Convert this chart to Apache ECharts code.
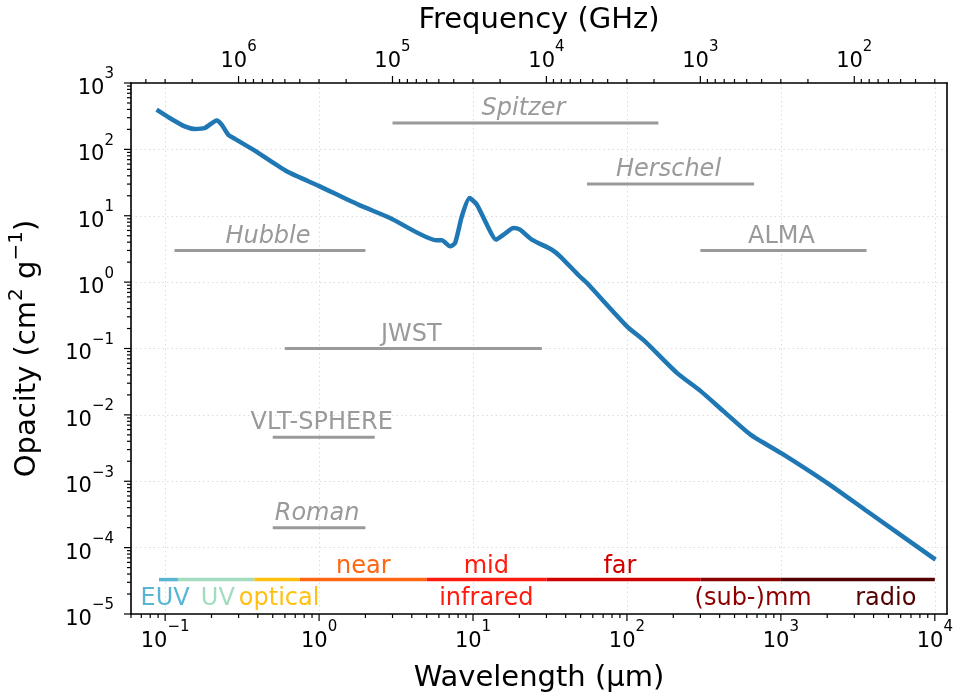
<!DOCTYPE html>
<html>
<head>
<meta charset="utf-8">
<script src="https://cdn.jsdelivr.net/npm/echarts@6/dist/echarts.min.js"></script>
<style>
  html, body { margin: 0; padding: 0; background: #ffffff; }
  #chart { width: 957px; height: 697px; }
</style>
</head>
<body>
<div id="chart"></div>
<script>
// Dust opacity versus wavelength (µm) and its matching frequency axis (GHz)
const wavelength = [0.088, 0.107, 0.134, 0.156, 0.181, 0.216, 0.233, 0.257, 0.284, 0.373,
  0.616, 1.01, 1.80, 2.89, 5.82, 6.27, 7.10, 7.65, 8.46, 9.48,
  10.6, 12.3, 14.1, 15.8, 18.3, 20.2, 24.1, 32.5, 36.8, 48.5,
  55, 100, 131, 211, 300, 425, 634, 1042, 1995, 3634, 10100];
const opacity = [396, 297, 222, 203, 210, 273, 236, 166, 144, 99,
  46.7, 27.7, 14.7, 9.27, 4.26, 4.26, 3.46, 3.89, 9.8, 18.5,
  14.7, 7.35, 4.37, 5.19, 6.55, 6.18, 4.37, 3.08, 2.45, 1.27,
  0.97, 0.216, 0.128, 0.043, 0.023, 0.0113, 0.00505, 0.00252, 9.46e-4, 3.53e-4, 6.6e-5];

// Telescope wavelength coverage, drawn at an arbitrary opacity level
const instrumentNames = ['Spitzer', 'Herschel', 'Hubble', 'ALMA', 'JWST', 'VLT-SPHERE', 'Roman'];
const instrumentStart = [3, 55, 0.115, 300, 0.6, 0.5, 0.5];
const instrumentEnd = [160, 670, 2.0, 3600, 28, 2.3, 2.0];
const instrumentLevel = [250, 30, 3, 3, 0.1, 0.0046, 2e-4];
const spaceTelescopes = ['Spitzer', 'Herschel', 'Hubble', 'Roman'];

// Spectral regions
const bandNames = ['EUV', 'UV', 'optical', 'near', 'mid', 'far', '(sub-)mm', 'radio'];
const bandStart = [0.0912, 0.121, 0.38, 0.75, 5, 30, 300, 1000];
const bandEnd = [0.121, 0.38, 0.75, 5, 30, 300, 1000, 10000];
const bandLevel = 3.3e-5;
const bandLabelText = ['EUV', 'UV', 'optical', 'near', 'mid', 'infrared', 'far', '(sub-)mm', 'radio'];
const bandLabelAt = [0.1, 0.22, 0.55, 1.94, 12.2, 12.2, 90, 660, 4800];
const bandLabelAbove = [false, false, false, true, true, false, true, false, false];

// Axis ranges and tick decades
const xRange = [0.06, 1.2e4];
const yRange = [1e-5, 1e3];
const waveDecades = [-2, -1, 0, 1, 2, 3, 4];
const freqDecades = [1, 2, 3, 4, 5, 6];
const opacityDecades = [-5, -4, -3, -2, -1, 0, 1, 2];
const UM_GHZ = 2.99792458e5; // λ[µm] · ν[GHz]

const bandColor = {
  'EUV': '#58b5d4', 'UV': '#a3dbbf', 'optical': '#ffc012', 'near': '#ff6612',
  'mid': '#ff1a0d', 'infrared': '#ff1a0d', 'far': '#d10000', '(sub-)mm': '#8c0000', 'radio': '#520000'
};
const FONT = '"DejaVu Sans", "Liberation Sans", sans-serif';
const GRAY = '#9a9a9a';

function supLabel(v) {
  const e = Math.log10(v);
  const r = Math.round(e);
  if (Math.abs(e - r) > 1e-6) return '';
  return '{b|10}{s|' + (r < 0 ? '\u2212' + (-r) : r) + '}';
}
const tickRich = {
  b: { fontSize: 21, fontFamily: FONT, color: '#000', lineHeight: 32, verticalAlign: 'bottom' },
  s: { fontSize: 15, fontFamily: FONT, color: '#000', lineHeight: 20, verticalAlign: 'top' }
};

const chart = echarts.init(document.getElementById('chart'), null, { renderer: 'canvas' });

function tickMarks(params, api) {
  const kids = [];
  const bottom = api.coord([xRange[0], yRange[0]])[1];
  const top = api.coord([xRange[0], yRange[1]])[1];
  const left = api.coord([xRange[0], yRange[0]])[0];
  const line = (x1, y1, x2, y2) => kids.push({
    type: 'line', shape: { x1, y1, x2, y2 },
    style: { stroke: '#000', lineWidth: 1.2 }, silent: true
  });
  const inX = v => v >= xRange[0] * 0.9999 && v <= xRange[1] * 1.0001;
  const inY = v => v >= yRange[0] * 0.9999 && v <= yRange[1] * 1.0001;
  // wavelength axis
  waveDecades.forEach(d => {
    for (let k = 1; k <= 9; k++) {
      const v = k * Math.pow(10, d);
      if (!inX(v)) continue;
      const x = api.coord([v, yRange[0]])[0];
      line(x, bottom, x, bottom + (k === 1 ? 7 : 4));
    }
  });
  // frequency axis
  freqDecades.forEach(d => {
    for (let k = 1; k <= 9; k++) {
      const lam = UM_GHZ / (k * Math.pow(10, d));
      if (!inX(lam)) continue;
      const x = api.coord([lam, yRange[1]])[0];
      line(x, top, x, top - (k === 1 ? 7 : 4));
    }
  });
  // opacity axis
  opacityDecades.forEach(d => {
    for (let k = 1; k <= 9; k++) {
      const v = k * Math.pow(10, d);
      if (!inY(v)) continue;
      const y = api.coord([xRange[0], v])[1];
      line(left, y, left - (k === 1 ? 7 : 4), y);
    }
  });
  const y3 = api.coord([xRange[0], 1e3])[1];
  line(left, y3, left - 7, y3);
  return { type: 'group', children: kids };
}

function instrumentItem(params, api) {
  const a = api.value(0), b = api.value(1), lvl = api.value(2);
  const name = instrumentNames[params.dataIndex];
  const p0 = api.coord([a, lvl]);
  const p1 = api.coord([b, lvl]);
  const pm = api.coord([Math.sqrt(a * b), lvl]);
  const italic = spaceTelescopes.indexOf(name) >= 0;
  return {
    type: 'group',
    children: [
      { type: 'line', shape: { x1: p0[0], y1: p0[1], x2: p1[0], y2: p1[1] },
        style: { stroke: GRAY, lineWidth: 3 } },
      { type: 'text',
        style: { text: name, x: pm[0] - 2, y: p0[1] - 2, fill: GRAY, align: 'center', verticalAlign: 'bottom',
          font: (italic ? 'italic ' : '') + '24px ' + FONT } }
    ]
  };
}

function bandItem(params, api) {
  const a = api.value(0), b = api.value(1);
  const p0 = api.coord([a, bandLevel]);
  const p1 = api.coord([b, bandLevel]);
  return {
    type: 'line', shape: { x1: p0[0], y1: p0[1], x2: p1[0], y2: p1[1] },
    style: { stroke: bandColor[bandNames[params.dataIndex]], lineWidth: 3.5 }
  };
}

function bandLabelItem(params, api) {
  const p = api.coord([api.value(0), bandLevel]);
  const i = params.dataIndex;
  const above = bandLabelAbove[i];
  return {
    type: 'text',
    style: { text: bandLabelText[i], x: p[0], y: above ? p[1] - 1 : p[1] + 7,
      fill: bandColor[bandLabelText[i]], align: 'center', verticalAlign: above ? 'bottom' : 'top',
      font: '24px ' + FONT }
  };
}

const option = {
  animation: false,
  backgroundColor: '#ffffff',
  grid: { left: 131, right: 10, top: 83, bottom: 83, containLabel: false, outerBoundsMode: 'none' },
  xAxis: [
    {
      type: 'log', logBase: 10, min: xRange[0], max: xRange[1], position: 'bottom',
      name: 'Wavelength (µm)', nameLocation: 'middle', nameGap: 50,
      nameTextStyle: { fontSize: 29, fontFamily: FONT, color: '#000' },
      axisLine: { show: true, lineStyle: { color: '#000', width: 1.6 } },
      axisTick: { show: false },
      axisLabel: { margin: 6, formatter: supLabel, rich: tickRich, showMinLabel: false, showMaxLabel: false },
      splitLine: { show: true, lineStyle: { color: '#dcdcdc', type: [1.5, 3], width: 1 } },
      minorTick: { show: false }
    },
    {
      type: 'log', logBase: 10, min: UM_GHZ / xRange[1], max: UM_GHZ / xRange[0], inverse: true, position: 'top',
      name: 'Frequency (GHz)', nameLocation: 'middle', nameGap: 44,
      nameTextStyle: { fontSize: 29, fontFamily: FONT, color: '#000' },
      axisLine: { show: true, lineStyle: { color: '#000', width: 1.6 } },
      axisTick: { show: false },
      axisLabel: { margin: 11, formatter: supLabel, rich: tickRich, showMinLabel: false, showMaxLabel: false },
      splitLine: { show: false }
    }
  ],
  yAxis: [
    {
      type: 'log', logBase: 10, min: yRange[0], max: yRange[1], position: 'left',
      name: 'Opacity (cm{s|2} g{s|\u22121})', nameLocation: 'middle', nameGap: 84, nameRotate: 90,
      nameTextStyle: {
        fontSize: 29, fontFamily: FONT, color: '#000',
        rich: {
          s: { fontSize: 20, fontFamily: FONT, color: '#000', verticalAlign: 'top', lineHeight: 24 }
        },
        lineHeight: 40
      },
      axisLine: { show: true, lineStyle: { color: '#000', width: 1.6 } },
      axisTick: { show: false },
      axisLabel: { margin: 17, formatter: supLabel, rich: tickRich },
      splitLine: { show: true, lineStyle: { color: '#dcdcdc', type: [1.5, 3], width: 1 } }
    },
    {
      type: 'log', logBase: 10, min: yRange[0], max: yRange[1], position: 'right',
      axisLine: { show: true, lineStyle: { color: '#000', width: 1.6 } },
      axisTick: { show: false }, axisLabel: { show: false }, splitLine: { show: false }
    }
  ],
  series: [
    {
      type: 'custom', name: 'bands', clip: false, z: 3,
      encode: { x: [0, 1], y: 2 },
      data: bandNames.map((n, i) => [bandStart[i], bandEnd[i], bandLevel]),
      renderItem: bandItem
    },
    {
      type: 'custom', name: 'band labels', clip: false, z: 3,
      encode: { x: 0, y: 1 },
      data: bandLabelText.map((t, i) => [bandLabelAt[i], bandLevel]),
      renderItem: bandLabelItem
    },
    {
      type: 'custom', name: 'instruments', clip: false, z: 3,
      encode: { x: [0, 1], y: 2 },
      data: instrumentNames.map((n, i) => [instrumentStart[i], instrumentEnd[i], instrumentLevel[i]]),
      renderItem: instrumentItem
    },
    {
      type: 'line', name: 'opacity', z: 5,
      data: wavelength.map((w, i) => [w, opacity[i]]),
      showSymbol: false, smooth: 0.2,
      lineStyle: { color: '#1f77b4', width: 4.5 }
    },
    {
      type: 'custom', name: 'ticks', clip: false, z: 10, silent: true,
      encode: { x: 0, y: 1 },
      data: [[1, 1]],
      renderItem: tickMarks
    }
  ]
};
chart.setOption(option);
</script>
</body>
</html>
